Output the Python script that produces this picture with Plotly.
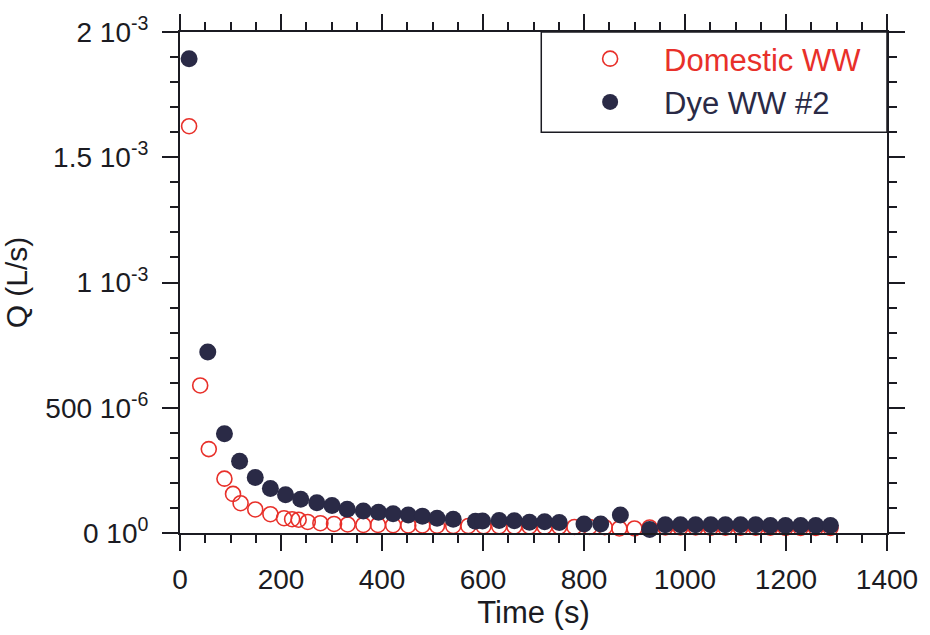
import plotly.graph_objects as go

# ---- data ----
dom_t = [18, 40, 57, 88, 105, 120, 149, 179, 206, 222, 235, 253, 278, 305, 332, 363,
         392, 422, 452, 480, 509, 541, 571, 601, 632, 662, 692, 722, 751, 781, 811,
         841, 870, 900, 930, 961, 991, 1021, 1051, 1080, 1110, 1140, 1169, 1199, 1229,
         1259, 1288]
dom_q_micro = [1624, 589, 335, 217, 156, 119, 94, 75, 59, 55, 53, 44, 39, 36, 34, 32,
               32, 31, 30, 30, 29, 28, 28, 27, 27, 26, 26, 25, 25, 24, 24,
               23, 18, 18, 22, 22, 22, 22, 21, 21, 21, 21, 21, 20, 20,
               20, 20]

dye_t = [18, 55, 88, 118, 149, 179, 209, 239, 271, 301, 331, 363, 393, 422, 452, 480,
         509, 541, 585, 599, 632, 662, 692, 722, 751, 800, 833, 872, 930, 961, 991,
         1021, 1051, 1080, 1110, 1140, 1169, 1199, 1229, 1259, 1288]
dye_q_micro = [1893, 723, 396, 286, 222, 178, 153, 135, 121, 110, 95, 88, 83, 77, 72, 67,
               59, 55, 47, 48, 50, 49, 43, 45, 42, 36, 36, 72, 14, 33, 33,
               33, 33, 33, 33, 33, 30, 30, 30, 30, 30]

y_tickvals = [0, 0.0005, 0.001, 0.0015, 0.002]
y_ticktext = ["0 10<sup>0</sup>", "500 10<sup>-6</sup>", "1 10<sup>-3</sup>",
              "1.5 10<sup>-3</sup>", "2 10<sup>-3</sup>"]
x_tickvals = [0, 200, 400, 600, 800, 1000, 1200, 1400]

RED = "#e8302a"
NAVY = "#2a2a46"
INK = "#1b1b22"
FONT = "Liberation Sans, Arial, Helvetica, sans-serif"

dom_q = [v * 1e-6 for v in dom_q_micro]
dye_q = [v * 1e-6 for v in dye_q_micro]

fig = go.Figure()
fig.add_trace(go.Scatter(
    x=dom_t, y=dom_q, mode="markers",
    name=f"<span style='color:{RED}'>Domestic WW</span>",
    marker=dict(symbol="circle-open", size=15, color=RED, line=dict(width=1.6, color=RED)),
    cliponaxis=False,
))
fig.add_trace(go.Scatter(
    x=dye_t, y=dye_q, mode="markers",
    name=f"<span style='color:{NAVY}'>Dye WW #2</span>",
    marker=dict(symbol="circle", size=17, color=NAVY, line=dict(width=0)),
    cliponaxis=False,
))

axis_common = dict(
    showline=True, linecolor=INK, linewidth=2, mirror="allticks",
    ticks="outside", tickcolor=INK, tickwidth=2, ticklen=16,
    showgrid=False, zeroline=False,
    tickfont=dict(family=FONT, size=28, color=INK),
)

fig.update_xaxes(
    range=[0, 1400], tickvals=x_tickvals, ticklabelstandoff=4,
    minor=dict(dtick=50, ticks="outside", ticklen=8, tickwidth=2, tickcolor=INK, showgrid=False),
    title=dict(text="Time (s)", font=dict(family=FONT, size=31, color=INK), standoff=6),
    **axis_common,
)
fig.update_yaxes(
    range=[0, 0.002], tickvals=y_tickvals, ticktext=y_ticktext, ticklabelstandoff=8,
    minor=dict(dtick=0.0001, ticks="outside", ticklen=8, tickwidth=2, tickcolor=INK, showgrid=False),
    title=dict(text="Q (L/s)", font=dict(family=FONT, size=30, color=INK), standoff=10),
    **axis_common,
)

fig.update_layout(
    width=930, height=635,
    margin=dict(l=180, r=41, t=32, b=102),
    paper_bgcolor="white", plot_bgcolor="white",
    font=dict(family=FONT, color=INK),
    showlegend=True,
    legend=dict(
        x=0.532, y=1.0, xanchor="left", yanchor="top",
        bgcolor="rgba(0,0,0,0)", borderwidth=0,
        font=dict(family=FONT, size=31),
        itemwidth=98, tracegroupgap=0,
    ),
    shapes=[dict(
        type="rect", xref="paper", yref="paper",
        x0=0.511, x1=1.0, y0=0.80, y1=1.0,
        line=dict(color=INK, width=1.5), fillcolor="white", layer="below",
    )],
)

fig.write_html("out.html")
